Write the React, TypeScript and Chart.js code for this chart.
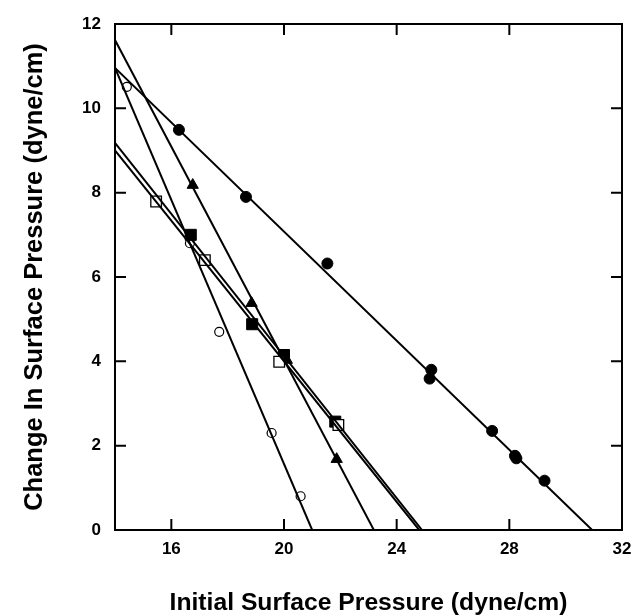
import React, { useEffect, useRef } from "react";
import { Chart, registerables } from "chart.js";

Chart.register(...registerables);

// ---- Data ----
const xTicks = [16, 20, 24, 28, 32];
const yTicks = [0, 2, 4, 6, 8, 10, 12];

// Filled circles
const filledCircleX = [16.27, 18.65, 21.54, 25.23, 25.17, 27.39, 28.2, 28.25, 29.25];
const filledCircleY = [9.49, 7.9, 6.32, 3.8, 3.59, 2.35, 1.76, 1.7, 1.17];
const filledCircleFitX = [14, 30.94];
const filledCircleFitY = [10.96, 0];

// Open circles
const openCircleX = [14.42, 16.66, 17.7, 19.56, 20.59];
const openCircleY = [10.51, 6.8, 4.7, 2.3, 0.8];
const openCircleFitX = [14, 21.0];
const openCircleFitY = [10.96, 0];

// Filled triangles
const triangleX = [16.76, 18.85, 20.1, 21.87];
const triangleY = [8.18, 5.38, 4.03, 1.68];
const triangleFitX = [14, 23.19];
const triangleFitY = [11.62, 0];

// Filled squares
const filledSquareX = [16.69, 18.87, 20.0, 21.82];
const filledSquareY = [7.0, 4.88, 4.15, 2.57];
const filledSquareFitX = [14, 24.9];
const filledSquareFitY = [9.18, 0];

// Open squares
const openSquareX = [15.46, 17.19, 19.83, 21.93];
const openSquareY = [7.79, 6.4, 3.99, 2.49];
const openSquareFitX = [14, 24.8];
const openSquareFitY = [9.0, 0];

const zip = (xs: number[], ys: number[]) => xs.map((x, i) => ({ x, y: ys[i] }));

const FONT_FAMILY = "'Liberation Sans', Arial, Helvetica, sans-serif";

const framePlugin = {
  id: "frameTicks",
  afterDraw(chart: any) {
    const { ctx, chartArea } = chart;
    const xs = chart.scales.x;
    const ys = chart.scales.y;
    const { left, right, top, bottom } = chartArea;
    const len = 11;
    ctx.save();
    ctx.strokeStyle = "#000";
    ctx.lineWidth = 2;
    ctx.strokeRect(left, top, right - left, bottom - top);
    ctx.beginPath();
    xTicks.forEach((v) => {
      const px = xs.getPixelForValue(v);
      ctx.moveTo(px, bottom);
      ctx.lineTo(px, bottom - len);
      ctx.moveTo(px, top);
      ctx.lineTo(px, top + len);
    });
    yTicks.forEach((v) => {
      const py = ys.getPixelForValue(v);
      ctx.moveTo(left, py);
      ctx.lineTo(left + len, py);
      ctx.moveTo(right, py);
      ctx.lineTo(right - len, py);
    });
    ctx.stroke();
    ctx.restore();
  },
};

const fitLine = (xs: number[], ys: number[]) => ({
  data: zip(xs, ys),
  showLine: true,
  borderColor: "#000",
  borderWidth: 2,
  pointRadius: 0,
  pointHoverRadius: 0,
  fill: false,
});

export default function App() {
  const ref = useRef<HTMLCanvasElement | null>(null);

  useEffect(() => {
    if (!ref.current) return;
    const chart = new Chart(ref.current, {
      type: "scatter",
      data: {
        datasets: [
          fitLine(filledCircleFitX, filledCircleFitY),
          fitLine(openCircleFitX, openCircleFitY),
          fitLine(triangleFitX, triangleFitY),
          fitLine(filledSquareFitX, filledSquareFitY),
          fitLine(openSquareFitX, openSquareFitY),
          {
            data: zip(openSquareX, openSquareY),
            pointStyle: "rect",
            pointRadius: 7.5,
            backgroundColor: "#fff",
            borderColor: "#000",
            borderWidth: 1.3,
          },
          {
            data: zip(filledSquareX, filledSquareY),
            pointStyle: "rect",
            pointRadius: 7.8,
            backgroundColor: "#000",
            borderColor: "#000",
            borderWidth: 1,
          },
          {
            data: zip(triangleX, triangleY),
            pointStyle: "triangle",
            pointRadius: 6.5,
            backgroundColor: "#000",
            borderColor: "#000",
            borderWidth: 1,
          },
          {
            data: zip(openCircleX, openCircleY),
            pointStyle: "circle",
            pointRadius: 4.5,
            backgroundColor: "#fff",
            borderColor: "#000",
            borderWidth: 1.2,
          },
          {
            data: zip(filledCircleX, filledCircleY),
            pointStyle: "circle",
            pointRadius: 5.5,
            backgroundColor: "#000",
            borderColor: "#000",
            borderWidth: 1,
          },
        ],
      },
      options: {
        animation: false,
        responsive: false,
        events: [],
        layout: { padding: { left: 0, right: 12, top: 24, bottom: 0 } },
        plugins: {
          legend: { display: false },
          tooltip: { enabled: false },
        },
        scales: {
          x: {
            type: "linear",
            min: 14,
            max: 32,
            grid: { display: false, drawTicks: false },
            border: { display: false },
            afterBuildTicks: (s: any) => {
              s.ticks = xTicks.map((v) => ({ value: v }));
            },
            afterFit: (s: any) => {
              s.height = 86;
              s.paddingLeft = 0;
              s.paddingRight = 0;
            },
            ticks: {
              color: "#000",
              padding: 9,
              maxRotation: 0,
              autoSkip: false,
              font: { family: FONT_FAMILY, size: 17, weight: "bold" },
            },
            title: {
              display: true,
              text: "Initial Surface Pressure (dyne/cm)",
              color: "#000",
              padding: { top: 0, bottom: 0 },
              font: { family: FONT_FAMILY, size: 24.7, weight: "bold", lineHeight: 1 },
            },
          },
          y: {
            type: "linear",
            min: 0,
            max: 12,
            grid: { display: false, drawTicks: false },
            border: { display: false },
            afterBuildTicks: (s: any) => {
              s.ticks = yTicks.map((v) => ({ value: v }));
            },
            afterFit: (s: any) => {
              s.width = 115;
              s.paddingTop = 0;
              s.paddingBottom = 0;
            },
            ticks: {
              color: "#000",
              padding: 14,
              autoSkip: false,
              font: { family: FONT_FAMILY, size: 17, weight: "bold" },
            },
            title: {
              display: true,
              text: "Change In Surface Pressure (dyne/cm)",
              color: "#000",
              padding: { top: 22, bottom: 0 },
              font: { family: FONT_FAMILY, size: 25.5, weight: "bold", lineHeight: 1 },
            },
          },
        },
      },
      plugins: [framePlugin],
    });
    return () => chart.destroy();
  }, []);

  return (
    <div style={{ position: "fixed", left: 0, top: 0, width: 634, height: 616, background: "#fff" }}>
      <canvas ref={ref} width={634} height={616} style={{ display: "block" }} />
    </div>
  );
}
